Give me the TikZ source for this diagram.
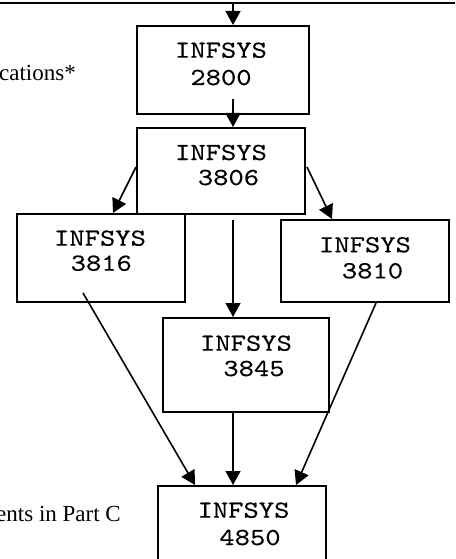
\documentclass[tikz,border=0pt]{standalone}
\usepackage{fontspec}
\setmainfont{Liberation Serif}
\newfontfamily\cmono{lmmono10-regular.otf}[FakeStretch=1.19,FakeBold=0.3]
\usetikzlibrary{arrows.meta}
\begin{document}
\begin{tikzpicture}[x=1pt,y=-1pt,
  box/.style={draw, line width=2pt, rectangle, inner sep=0pt},
  mono/.style={font=\cmono\fontsize{24.5}{26}\selectfont, inner sep=0pt, anchor=base},
  side/.style={font=\fontsize{23}{27}\selectfont, inner sep=0pt, anchor=base east},
  arr/.style={line width=1.6pt, -{Triangle[length=14pt,width=15pt]}},
  rule/.style={line width=2pt}]
\useasboundingbox (0,0) rectangle (455,559);
% top rule
\coordinate (tl) at (0,3);
\coordinate (tr) at (455,3);
\coordinate (tc) at (233,3);
\draw[rule] (tl) -- (tr);
% boxes
\node[box, minimum width=172pt, minimum height=88pt] (n2800) at (223,70) {};
\node[box, minimum width=168pt, minimum height=86pt] (n3806) at (221,171) {};
\node[box, minimum width=168pt, minimum height=88pt] (n3816) at (101,258) {};
\node[box, minimum width=168pt, minimum height=82pt] (n3810) at (365,261) {};
\node[box, minimum width=166pt, minimum height=94pt] (n3845) at (246,365) {};
\node[box, minimum width=168pt, minimum height=114pt] (n4850) at (242,543) {};
% box texts
\node[mono] (t2800a) at (221,57.7) {INFSYS};
\node[mono] (t2800b) at (221,85) {2800};
\node[mono] (t3806a) at (221,160) {INFSYS};
\node[mono] (t3806b) at (228.5,185) {3806};
\node[mono] (t3816a) at (100,245.7) {INFSYS};
\node[mono] (t3816b) at (101.3,270.7) {3816};
\node[mono] (t3810a) at (365,252.3) {INFSYS};
\node[mono] (t3810b) at (372.5,278.3) {3810};
\node[mono] (t3845a) at (246,350.7) {INFSYS};
\node[mono] (t3845b) at (254,376) {3845};
\node[mono] (t4850a) at (243.5,517.7) {INFSYS};
\node[mono] (t4850b) at (250,545) {4850};
% side texts
\node[side] (s1) at (76,81) {cations*};
\node[side] (s2) at (121,521) {ents in Part C};
% connectors
\draw[arr] (tc) -- ([xshift=10pt]n2800.north);
\draw[arr] ([xshift=10pt,yshift=16pt]n2800.south) -- ([xshift=12pt]n3806.north);
\draw[arr] ([yshift=4pt]n3806.west) -- ([xshift=12pt]n3816.north);
\draw[arr] ([xshift=1pt,yshift=4pt]n3806.east) -- ([xshift=-33pt]n3810.north);
\draw[arr] ([xshift=12pt,yshift=-5pt]n3806.south) -- ([xshift=-13pt]n3845.north);
\draw[arr] ([xshift=-18pt,yshift=10pt]n3816.south) -- ([xshift=-47pt]n4850.north);
\draw[arr] ([xshift=11pt]n3810.south) -- ([xshift=54pt]n4850.north);
\draw[arr] ([xshift=-13pt]n3845.south) -- ([xshift=-9pt]n4850.north);
\end{tikzpicture}
\end{document}
